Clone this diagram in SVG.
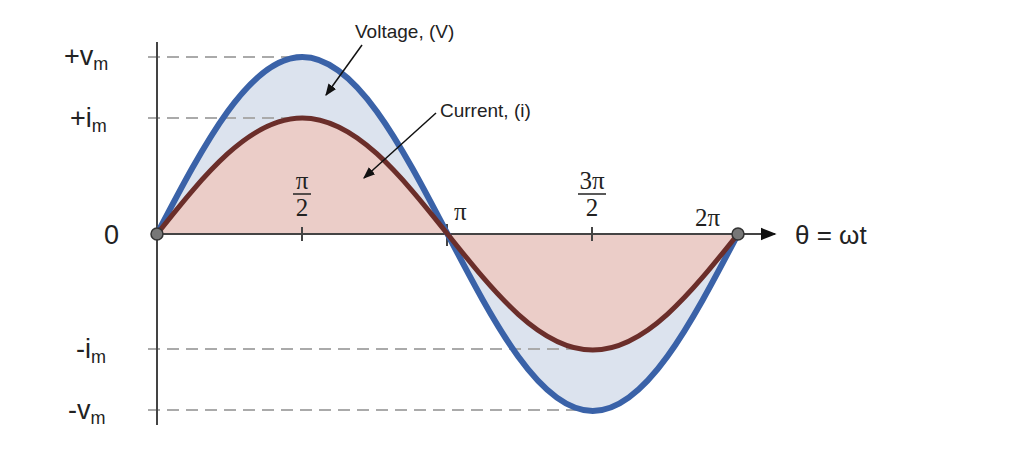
<svg xmlns="http://www.w3.org/2000/svg" width="1024" height="473" viewBox="0 0 1024 473">
<style>
text{font-family:"Liberation Sans",Arial,sans-serif;fill:#222}
.lab{font-size:27px}
.sub{font-size:18px}
.dash{stroke:#aaa;stroke-width:2;stroke-dasharray:12 7;fill:none}
.ax{stroke:#444;stroke-width:2;fill:none}
.pi{font-family:"Liberation Serif",serif;font-size:25px}
</style>
<defs>
<marker id="ah" viewBox="0 0 10 10" refX="9" refY="5" markerWidth="8" markerHeight="8" orient="auto"><path d="M0,1 L10,5 L0,9 z" fill="#111"/></marker>
</defs>
<rect width="1024" height="473" fill="#fff"/>
<g id="fills">
<path d="M157,234 C204.4,143.3 249.7,57 302.25,57 C354.8,57 400.1,143.3 447.5,234 C494.9,324.7 540.2,411 592.75,411 C645.3,411 690.6,324.7 738,234 Z" fill="#dce3ee"/>
<path d="M157,234 C204.4,174.6 249.7,118 302.25,118 C354.8,118 400.1,174.6 447.5,234 C494.9,293.4 540.2,350 592.75,350 C645.3,350 690.6,293.4 738,234 Z" fill="#ebcdc8"/>
</g>
<g id="guides">
<line class="dash" x1="148" y1="57" x2="300" y2="57"/>
<line class="dash" x1="148" y1="118" x2="300" y2="118"/>
<line class="dash" x1="148" y1="349" x2="590" y2="349"/>
<line class="dash" x1="148" y1="410" x2="590" y2="410"/>
</g>
<g id="axes">
<line class="ax" x1="157" y1="42" x2="157" y2="425"/>
<line class="ax" x1="157" y1="234" x2="775" y2="234" marker-end="url(#ah)"/>
<line class="ax" x1="302" y1="227" x2="302" y2="241"/>
<line class="ax" x1="592" y1="227" x2="592" y2="241"/>
<line class="ax" x1="447" y1="224" x2="447" y2="246"/>
</g>
<g id="curves" fill="none" stroke-linecap="round">
<path d="M157,234 C204.4,143.3 249.7,57 302.25,57 C354.8,57 400.1,143.3 447.5,234 C494.9,324.7 540.2,411 592.75,411 C645.3,411 690.6,324.7 738,234" stroke="#3a62a8" stroke-width="6"/>
<path d="M157,234 C204.4,174.6 249.7,118 302.25,118 C354.8,118 400.1,174.6 447.5,234 C494.9,293.4 540.2,350 592.75,350 C645.3,350 690.6,293.4 738,234" stroke="#6b2e2a" stroke-width="5"/>
</g>
<g id="points">
<circle cx="157" cy="234" r="6" fill="#777" stroke="#333" stroke-width="1.5"/>
<circle cx="738" cy="234" r="6" fill="#777" stroke="#333" stroke-width="1.5"/>
</g>
<g id="connectors" stroke="#111" stroke-width="1.5" fill="none">
<line x1="362" y1="45" x2="326" y2="95" marker-end="url(#ah)"/>
<line x1="436" y1="113" x2="364" y2="178" marker-end="url(#ah)"/>
</g>
<g id="labels">
<text class="lab" x="64" y="65">+v<tspan class="sub" dy="5">m</tspan></text>
<text class="lab" x="70" y="127">+i<tspan class="sub" dy="5">m</tspan></text>
<text class="lab" x="104" y="244">0</text>
<text class="lab" x="76" y="358">-i<tspan class="sub" dy="5">m</tspan></text>
<text class="lab" x="68" y="419">-v<tspan class="sub" dy="5">m</tspan></text>
<text x="355" y="38" font-size="19">Voltage, (V)</text>
<text x="440" y="117" font-size="19">Current, (i)</text>
<text class="pi" x="302" y="189" text-anchor="middle">π</text>
<line x1="293" y1="194" x2="311" y2="194" stroke="#222" stroke-width="1.5"/>
<text class="pi" x="302" y="216" text-anchor="middle">2</text>
<text class="pi" x="592" y="189" text-anchor="middle">3π</text>
<line x1="578" y1="194" x2="606" y2="194" stroke="#222" stroke-width="1.5"/>
<text class="pi" x="592" y="216" text-anchor="middle">2</text>
<text class="pi" x="454" y="220">π</text>
<text class="pi" x="695" y="226">2π</text>
<text x="795" y="244" font-size="26">θ = ωt</text>
</g>
</svg>
